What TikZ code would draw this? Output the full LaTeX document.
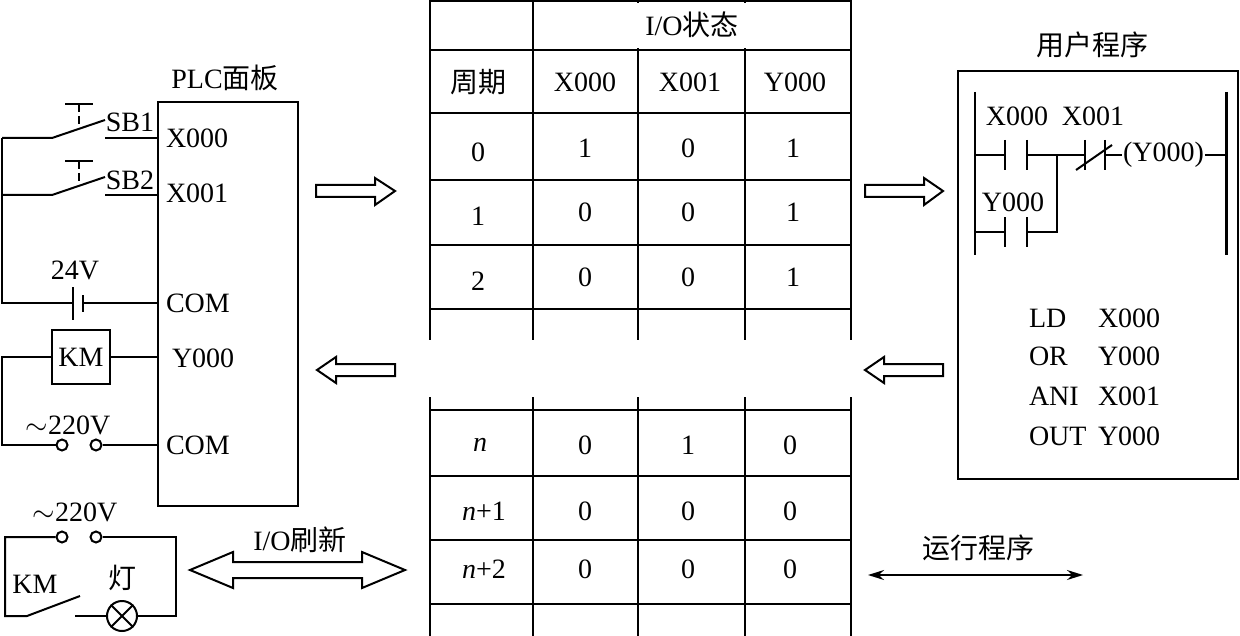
\documentclass[tikz,border=0pt]{standalone}
\usepackage{fontspec}
\setmainfont{Liberation Serif}
\newfontfamily\cjk{Noto Sans CJK SC}
\usetikzlibrary{arrows.meta}
\begin{document}
\begin{tikzpicture}[x=0.5pt,y=-0.5pt,line width=1pt,
  every node/.style={font=\fontsize{14}{16}\selectfont,inner sep=0pt},
  t/.style={anchor=center},
  lt/.style={anchor=west},
  tbl/.style={line width=1.2pt},
  hol/.style={draw,line width=1pt,fill=white}]
\useasboundingbox (0,0) rectangle (1240,636);
% ---------- PLC panel ----------
\node (plc) [draw,minimum width=70pt,minimum height=202pt,anchor=north west] at (157,101) {};
\node (plct) at (225,78) {PLC{\cjk 面板}};
\node (x0) [lt] at (165,138) {X000};
\node (x1) [lt] at (165,193) {X001};
\node (com1) [lt] at (165,303) {COM};
\node (y0) [lt] at (171,358) {Y000};
\node (com2) [lt] at (165,445) {COM};
% SB1
\coordinate (s1a) at (52,138); \coordinate (s1b) at (105,120); \coordinate (s1c) at (105,138);
\draw (2,138) -- (s1a) -- (s1b);
\draw (s1c) -- (157,138);
\draw (65,104) -- (93,104);
\draw[dash pattern=on 4pt off 2pt] (79,104) -- (79,129);
\node (sb1) at (130,122) {SB1};
% SB2
\coordinate (s2a) at (52,195); \coordinate (s2b) at (105,177); \coordinate (s2c) at (105,195);
\draw (2,195) -- (s2a) -- (s2b);
\draw (s2c) -- (157,195);
\draw (65,161) -- (93,161);
\draw[dash pattern=on 4pt off 2pt] (79,161) -- (79,186);
\node (sb2) at (130,180) {SB2};
% 24V
\draw (2,138) -- (2,303) -- (73,303);
\draw (73,287) -- (73,320);
\draw (83,295) -- (83,312);
\draw (83,303) -- (157,303);
\node (v24) at (75,270) {24V};
% KM
\node (km) [draw,minimum width=29pt,minimum height=27pt] at (81,357) {KM};
\draw (km.east) -- (157,357);
\draw (km.west) -- (2,357) -- (2,445) -- (57,445);
\node (c1) [draw,circle,minimum size=5.5pt] at (62,445) {};
\node (c2) [draw,circle,minimum size=5.5pt] at (96,445) {};
\draw (c2.east) -- (157,445);
\node (v220a) at (68,425) {$\sim$220V};
% ---------- bottom-left circuit ----------
\node (c3) [draw,circle,minimum size=5.5pt] at (62,537) {};
\node (c4) [draw,circle,minimum size=5.5pt] at (96,537) {};
\node (v220b) at (75,512) {$\sim$220V};
\node (lamp) [draw,circle,minimum size=15pt] at (122,616) {};
\draw (lamp.north east) -- (lamp.south west) (lamp.north west) -- (lamp.south east);
\draw (c3.west) -- (5,537) -- (5,616) -- (27,616) -- (80,596);
\draw (75,616) -- (lamp.west);
\draw (lamp.east) -- (176,616) -- (176,537) -- (c4.east);
\node (kmb) at (35,584) {KM};
\node (deng) at (122,578) {\cjk 灯};
% ---------- I/O double arrow ----------
\draw[hol] (190,570) -- (233,552) -- (233,562) -- (362,562) -- (362,552) -- (405,570)
  -- (362,588) -- (362,578) -- (233,578) -- (233,588) -- cycle;
\node (iot) at (300,540) {I/O{\cjk 刷新}};
% hollow arrows
\draw[hol] (316,185) -- (375,185) -- (375,178) -- (395,191) -- (375,205) -- (375,197) -- (316,197) -- cycle;
\draw[hol] (395,364) -- (336,364) -- (336,357) -- (317,370) -- (336,383) -- (336,376) -- (395,376) -- cycle;
\draw[hol] (865,185) -- (924,185) -- (924,178) -- (943,191) -- (924,205) -- (924,197) -- (865,197) -- cycle;
\draw[hol] (943,364) -- (884,364) -- (884,357) -- (865,370) -- (884,383) -- (884,376) -- (943,376) -- cycle;
% ---------- table ----------
\foreach \x in {430,533,638,745,851} {\draw[tbl] (\x,0) -- (\x,340); \draw[tbl] (\x,397) -- (\x,636);}
\draw[tbl] (430,1) -- (851,1);
\foreach \y in {50,113,180,245,309,410,476,540,604} \draw[tbl] (430,\y) -- (851,\y);
\draw[tbl,draw=white,line width=4pt] (638,3) -- (638,48) (745,3) -- (745,48);
\node (ios) at (692,25) {I/O{\cjk 状态}};
\node (zq) at (478,82) {\cjk 周期};
\node (hx0) at (585,82) {X000};
\node (hx1) at (690,82) {X001};
\node (hy0) at (795,82) {Y000};
\node (r0a) at (478,152) {0}; \node (r0b) at (585,148) {1}; \node (r0c) at (688,148) {0}; \node (r0d) at (793,148) {1};
\node (r1a) at (478,216) {1}; \node (r1b) at (585,212) {0}; \node (r1c) at (688,212) {0}; \node (r1d) at (793,212) {1};
\node (r2a) at (478,281) {2}; \node (r2b) at (585,277) {0}; \node (r2c) at (688,277) {0}; \node (r2d) at (793,277) {1};
\node (rna) at (480,445) {\textit{n}}; \node (rnb) at (585,445) {0}; \node (rnc) at (688,445) {1}; \node (rnd) at (790,445) {0};
\node (rma) at (484,511) {\textit{n}+1}; \node (rmb) at (585,511) {0}; \node (rmc) at (688,511) {0}; \node (rmd) at (790,511) {0};
\node (rpa) at (484,569) {\textit{n}+2}; \node (rpb) at (585,569) {0}; \node (rpc) at (688,569) {0}; \node (rpd) at (790,569) {0};
% ---------- user program ----------
\node (upt) at (1092,45) {\cjk 用户程序};
\node (ubox) [draw,minimum width=140pt,minimum height=204pt,anchor=north west] at (957,70) {};
\draw (975,92) -- (975,255);
\draw[line width=1.5pt] (1226,92) -- (1226,255);
\draw (975,155) -- (1005,155) (1005,140) -- (1005,170) (1027,140) -- (1027,170);
\draw (1027,155) -- (1085,155) (1085,140) -- (1085,170) (1105,140) -- (1105,170);
\draw (1076,170) -- (1112,145);
\node (coil) [anchor=west] at (1122,155) {(Y000)};
\draw (1105,155) -- (coil.west);
\draw (coil.east) -- (1226,155);
\draw (975,232) -- (1005,232) (1005,217) -- (1005,247) (1027,217) -- (1027,247);
\draw (1027,232) -- (1057,232) -- (1057,155);
\node (lx0) at (1017,116) {X000};
\node (lx1) at (1093,116) {X001};
\node (ly0) at (1013,202) {Y000};
\node (i1) [lt] at (1028,318) {LD}; \node (o1) [lt] at (1097,318) {X000};
\node (i2) [lt] at (1028,356) {OR}; \node (o2) [lt] at (1097,356) {Y000};
\node (i3) [lt] at (1028,396) {ANI}; \node (o3) [lt] at (1097,396) {X001};
\node (i4) [lt] at (1028,436) {OUT}; \node (o4) [lt] at (1097,436) {Y000};
% run program arrow
\node (yx) at (978,548) {\cjk 运行程序};
\coordinate (ra) at (868,575); \coordinate (rb) at (1083,575);
\draw[line width=0.8pt,{Stealth[length=8pt,width=5pt]}-{Stealth[length=8pt,width=5pt]}] (ra) -- (rb);
\end{tikzpicture}
\end{document}
